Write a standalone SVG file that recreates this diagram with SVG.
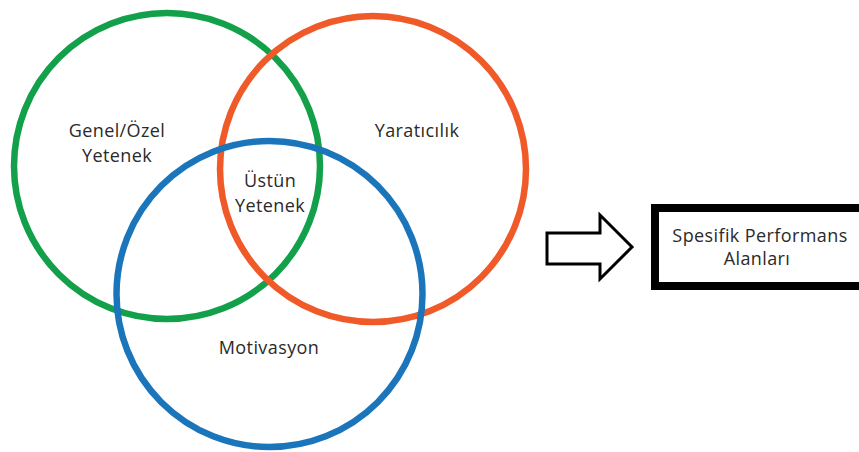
<svg xmlns="http://www.w3.org/2000/svg" width="859" height="452" viewBox="0 0 859 452">
  <style>
    .ring { fill: none; stroke-width: 6.5; }
    .lbl { font-family: "Open Sans", "Liberation Sans", sans-serif; font-size: 18px; fill: #2a2a2a; text-anchor: middle; letter-spacing: 0.4px; }
  </style>
  <rect width="859" height="452" fill="#ffffff"/>
  <g id="genel">
    <circle class="ring" cx="167" cy="166" r="153" stroke="#12a04a"/>
    <text class="lbl" x="117" y="137">Genel/Özel</text>
    <text class="lbl" x="117" y="162">Yetenek</text>
  </g>
  <g id="yaraticilik">
    <circle class="ring" cx="373" cy="169" r="153" stroke="#f05a28"/>
    <text class="lbl" x="417" y="137">Yaratıcılık</text>
  </g>
  <g id="motivasyon">
    <circle class="ring" cx="269.5" cy="294" r="153" stroke="#1b75bb"/>
    <text class="lbl" x="269" y="354">Motivasyon</text>
  </g>
  <g id="ustun">
    <text class="lbl" x="270" y="187">Üstün</text>
    <text class="lbl" x="270" y="212">Yetenek</text>
  </g>
  <g id="connectors">
    <polygon points="547,233 600,233 600,215 632,247 600,279 600,264 547,264" fill="#ffffff" stroke="#000000" stroke-width="3" stroke-linejoin="miter"/>
  </g>
  <g id="performans">
    <rect x="655" y="208" width="250" height="78" fill="#ffffff" stroke="#000000" stroke-width="8"/>
    <text class="lbl" x="760" y="242">Spesifik Performans</text>
    <text class="lbl" x="757" y="265">Alanları</text>
  </g>
</svg>
